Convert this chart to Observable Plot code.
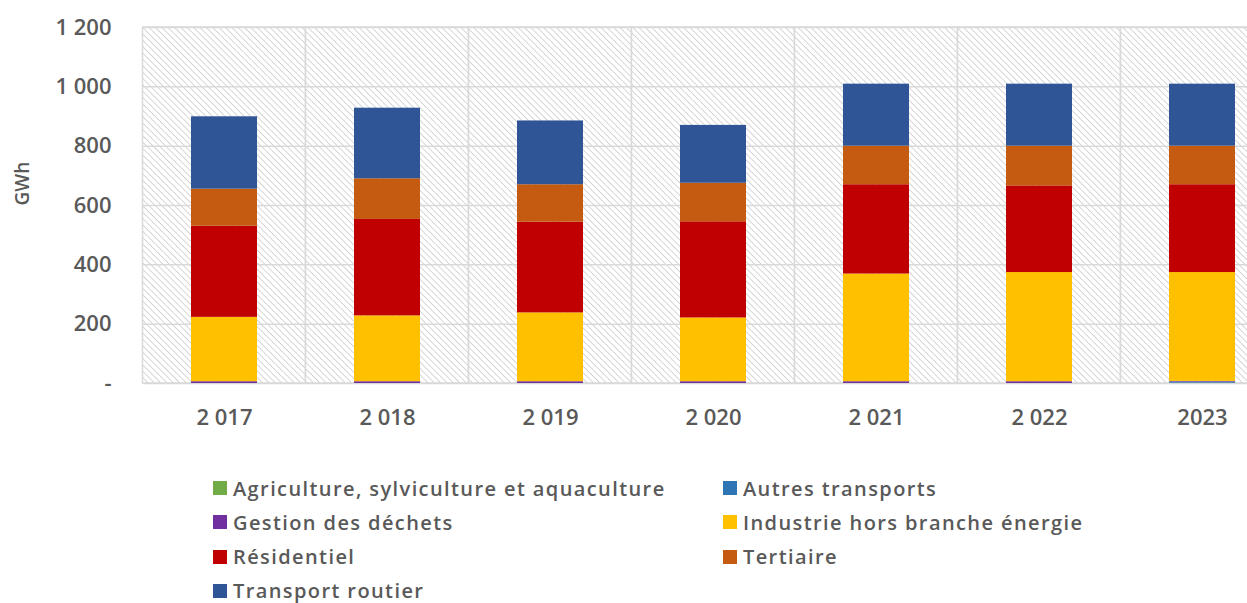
<!DOCTYPE html>
<html>
<head>
<meta charset="utf-8">
<script src="https://cdn.jsdelivr.net/npm/d3@7"></script>
<script src="https://cdn.jsdelivr.net/npm/@observablehq/plot@0.6"></script>
<style>
  html, body { margin: 0; padding: 0; background: #fff; overflow: hidden; }
  #wrap { position: relative; width: 1247px; height: 603px; overflow: hidden; font-family: "Open Sans", sans-serif; }
  #chart { position: absolute; left: 0; top: 0; width: 1284px; }
  #chart svg { max-width: none !important; }
  #legend { position: absolute; left: 0; top: 471px; width: 1247px; }
  .item { position: absolute; display: flex; align-items: center; height: 34px; font-size: 20px; letter-spacing: 1.4px; font-weight: 600; color: #595959; white-space: nowrap; }
  .sw { width: 14px; height: 14px; margin-right: 6px; flex: none; }
</style>
</head>
<body>
<div id="wrap">
  <div id="chart"></div>
  <div id="legend"></div>
</div>
<script>
const years = ["2017", "2018", "2019", "2020", "2021", "2022", "2023"];
const xTickLabels = ["2 017", "2 018", "2 019", "2 020", "2 021", "2 022", "2023"];
const yTicks = [0, 200, 400, 600, 800, 1000, 1200];
const yTickLabels = ["-", "200", "400", "600", "800", "1 000", "1 200"];
const sectors = [
  "Agriculture, sylviculture et aquaculture",
  "Autres transports",
  "Gestion des déchets",
  "Industrie hors branche énergie",
  "Résidentiel",
  "Tertiaire",
  "Transport routier"
];
const colors = ["#70AD47", "#2E75B6", "#7030A0", "#FFC000", "#C00000", "#C55A11", "#2F5597"];

const agriculture      = [0, 0, 0, 0, 0, 0, 1];
const autresTransports = [0, 0, 0, 0, 0, 0, 4];
const gestionDechets   = [6, 6, 6, 6, 6, 6, 2];
const industrie        = [217, 222, 232, 215, 363, 368, 367];
const residentiel      = [307, 325, 306, 324, 301, 292, 296];
const tertiaire        = [125, 137, 126, 130, 130, 134, 130];
const transportRoutier = [244, 238, 215, 195, 209, 209, 209];

const series = [agriculture, autresTransports, gestionDechets, industrie, residentiel, tertiaire, transportRoutier];
const data = [];
years.forEach((y, i) => {
  sectors.forEach((s, k) => data.push({year: y, sector: s, value: series[k][i]}));
});

// The plot area runs past the right edge of the picture, as in the reference
const W = 1284, H = 452;
const mL = 143, mR = 0, mT = 27, mB = 69;
const padIn = 0.595;
const step = (W - mL - mR) / years.length;
const extra = step * padIn / 2;

const plot = Plot.plot({
  width: W,
  height: H,
  marginLeft: mL,
  marginRight: mR,
  marginTop: mT,
  marginBottom: mB,
  style: {fontFamily: "'Open Sans', sans-serif", background: "transparent", maxWidth: "none", overflow: "visible"},
  x: {domain: years, paddingInner: padIn, paddingOuter: padIn / 2, label: null},
  y: {domain: [0, 1200], label: null},
  color: {domain: sectors, range: colors},
  marks: [
    Plot.barY(years, {x: d => d, y1: 0, y2: 1200, fill: "url(#hatch)", stroke: "#d9d9d9", strokeWidth: 1.5, insetLeft: -extra, insetRight: -extra}),
    Plot.ruleY(yTicks, {stroke: "#d9d9d9", strokeWidth: 1.5}),
    Plot.barY(data, {x: "year", y: "value", fill: "sector", order: sectors}),
    Plot.axisY({ticks: yTicks, tickSize: 0, tickPadding: 32, tickFormat: d => yTickLabels[yTicks.indexOf(d)], fontSize: 22, fontWeight: 600, fill: "#595959", label: null, style: {letterSpacing: "1px"}}),
    Plot.axisX({tickSize: 0, tickPadding: 26, tickFormat: d => xTickLabels[years.indexOf(d)], fontSize: 22, fontWeight: 600, fill: "#595959", label: null, style: {letterSpacing: "0.6px"}}),
    Plot.text(["GWh"], {frameAnchor: "left", dx: -121, text: d => d, rotate: -90, fontSize: 19, fontWeight: 600, fill: "#595959"})
  ]
});

d3.select(plot).insert("defs", ":first-child").html(
  '<pattern id="hatch" width="4.5" height="4.5" patternUnits="userSpaceOnUse" patternTransform="rotate(-45)">' +
  '<rect width="4.5" height="4.5" fill="#ffffff"/>' +
  '<line x1="0" y1="0" x2="0" y2="4.5" stroke="#cfcfcf" stroke-width="1.7"/>' +
  '</pattern>'
);

document.getElementById("chart").appendChild(plot);

const legend = document.getElementById("legend");
const colX = [213, 723];
sectors.forEach((s, k) => {
  const row = Math.floor(k / 2), col = k % 2;
  const div = document.createElement("div");
  div.className = "item";
  div.style.left = colX[col] + "px";
  div.style.top = (row * 34.3) + "px";
  const sw = document.createElement("span");
  sw.className = "sw";
  sw.style.background = colors[k];
  const t = document.createElement("span");
  t.textContent = s;
  div.appendChild(sw);
  div.appendChild(t);
  legend.appendChild(div);
});
</script>
</body>
</html>
